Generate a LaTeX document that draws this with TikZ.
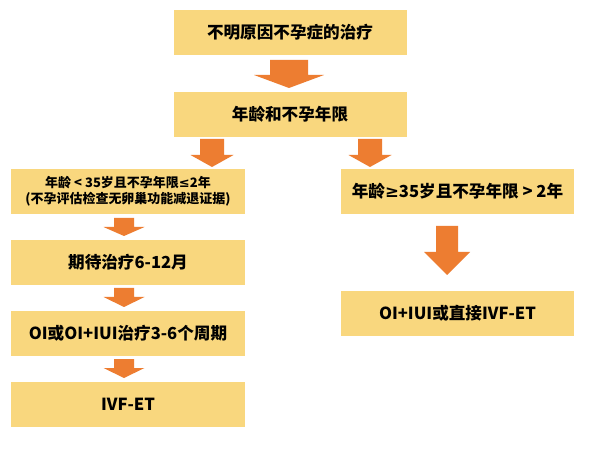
\documentclass[tikz,border=0pt]{standalone}
\usepackage{fontspec}
\setmainfont{Noto Sans CJK SC}
\newfontfamily\symf{DejaVu Sans}
\definecolor{boxc}{HTML}{F9D77E}
\definecolor{arrc}{HTML}{ED7D31}
\tikzset{
  box/.style={fill=boxc, draw=none, minimum width=233pt, minimum height=45pt, inner sep=0pt, align=center, font=\fontsize{16.6}{19}\selectfont\bfseries},
  arr/.style={fill=arrc, draw=none}
}
\newcommand\darrow[6]{%
\fill[arr] ({#1-#5},{453-#2}) -- ({#1+#5},{453-#2}) -- ({#1+#5},{453-#3}) -- ({#1+#6},{453-#3}) -- (#1,{453-#4}) -- ({#1-#6},{453-#3}) -- ({#1-#5},{453-#3}) -- cycle;}
\begin{document}
\begin{tikzpicture}[x=1pt,y=1pt]
\useasboundingbox[fill=white] (0,0) rectangle (600,453);
\node[box] (b1) at (290,420.5) {不明原因不孕症的治疗};
\node[box] (b2) at (290,338.5) {年龄和不孕年限};
\node[box, minimum width=234pt, font=\fontsize{13}{16}\selectfont\bfseries] (b3) at (128,261.5) {年龄 < 35岁且不孕年限{\symf\bfseries ≤}2年\\(不孕评估检查无卵巢功能减退证据)};
\node[box] (r1) at (457.5,261.5) {年龄{\symf\bfseries ≥}35岁且不孕年限 > 2年};
\node[box, minimum width=234pt] (b4) at (128,190.5) {期待治疗6-12月};
\node[box, minimum width=234pt] (b5) at (128,119.5) {OI或OI+IUI治疗3-6个周期};
\node[box, minimum width=234pt] (b6) at (128,48.5) {IVF-ET};
\node[box] (r2) at (457.5,139.5) {OI+IUI或直接IVF-ET};
\darrow{289}{60}{75}{88}{19}{35}
\darrow{212}{139}{155}{167}{12}{21.5}
\darrow{370}{139}{155}{167}{12}{21.5}
\darrow{124}{218}{227}{236}{10}{20.5}
\darrow{124}{288}{297}{307}{10}{20.5}
\darrow{124}{359}{368}{378}{10}{20.5}
\darrow{447}{226}{252}{275}{11}{23}
\end{tikzpicture}
\end{document}
